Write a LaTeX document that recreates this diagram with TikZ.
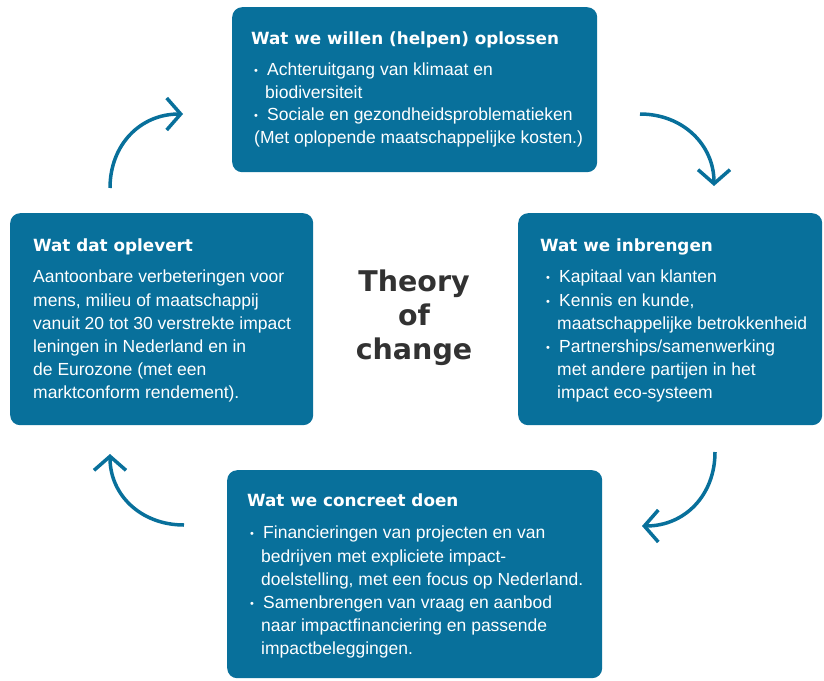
\documentclass[tikz,border=0pt]{standalone}
\usepackage{fontspec}
\setmainfont{Liberation Sans}
\newfontfamily\headfont{DejaVu Sans}
\usetikzlibrary{arrows.meta}
\definecolor{tocblue}{RGB}{8,112,155}
\definecolor{titlegray}{RGB}{50,50,50}
\newcommand{\bul}{\makebox[13pt][l]{\raisebox{1pt}{\fontsize{11}{11}\selectfont •}}}
\newcommand{\ind}{\hspace*{11pt}}
\begin{document}
\begin{tikzpicture}[x=1pt,y=-1pt,
  box/.style={fill=tocblue, rounded corners=10pt, draw=none, inner sep=0, anchor=north west},
  head/.style={text=white, font=\headfont\bfseries\fontsize{16.8}{20}\selectfont, anchor=base west, inner sep=0},
  body/.style={text=white, font=\fontsize{17.5}{23.2}\selectfont, align=left, anchor=north west, inner sep=0},
  bodytight/.style={body, font=\fontsize{17.5}{22.4}\selectfont},
  cyc/.style={draw=tocblue, line width=3.5pt, -{Straight Barb[length=14pt, width=32pt]}}]
\useasboundingbox (0,0) rectangle (824,680);

% boxes
\node[box, minimum width=365pt, minimum height=165pt] (top) at (232,7) {};
\node[box, minimum width=304pt, minimum height=212pt] (right) at (518,213) {};
\node[box, minimum width=303pt, minimum height=212pt] (left) at (10,213) {};
\node[box, minimum width=375pt, minimum height=208pt] (bottom) at (227,470) {};

% top
\node[head] (tophead) at (251,44) {Wat we willen (helpen) oplossen};
\node[bodytight] (topbody) at (254,63) {\bul Achteruitgang van klimaat en\\
\ind biodiversiteit\\
\bul Sociale en gezondheidsproblematieken\\
(Met oplopende maatschappelijke kosten.)};

% right
\node[head] (righthead) at (540,251) {Wat we inbrengen};
\node[body] (rightbody) at (546,270) {\bul Kapitaal van klanten\\
\bul Kennis en kunde,\\
\ind maatschappelijke betrokkenheid\\
\bul Partnerships/samenwerking\\
\ind met andere partijen in het\\
\ind impact eco-systeem};

% left
\node[head] (lefthead) at (33,251) {Wat dat oplevert};
\node[body] (leftbody) at (33,270) {Aantoonbare verbeteringen voor\\
mens, milieu of maatschappij\\
vanuit 20 tot 30 verstrekte impact\\
leningen in Nederland en in\\
de Eurozone (met een\\
marktconform rendement).};

% bottom
\node[head] (bottomhead) at (247,506) {Wat we concreet doen};
\node[body] (bottombody) at (250,526) {\bul Financieringen van projecten en van\\
\ind bedrijven met expliciete impact-\\
\ind doelstelling, met een focus op Nederland.\\
\bul Samenbrengen van vraag en aanbod\\
\ind naar impactfinanciering en passende\\
\ind impactbeleggingen.};

% title
\node[text=titlegray, font=\headfont\bfseries\fontsize{28.5}{34}\selectfont, align=center] (title) at (414,318) {Theory\\of\\change};

% cycle arrows
\coordinate (a1s) at (110,188); \coordinate (a1e) at (183,114);
\coordinate (a2s) at (640,114); \coordinate (a2e) at (714,186);
\coordinate (a3s) at (715,452); \coordinate (a3e) at (642,526);
\coordinate (a4s) at (184,525); \coordinate (a4e) at (110,454);
\draw[cyc] (a1s) .. controls (110,145) and (140,114) .. (a1e);
\draw[cyc] (a2s) .. controls (683,114) and (714,145) .. (a2e);
\draw[cyc] (a3s) .. controls (715,495) and (685,526) .. (a3e);
\draw[cyc] (a4s) .. controls (141,525) and (110,495) .. (a4e);
\end{tikzpicture}
\end{document}
